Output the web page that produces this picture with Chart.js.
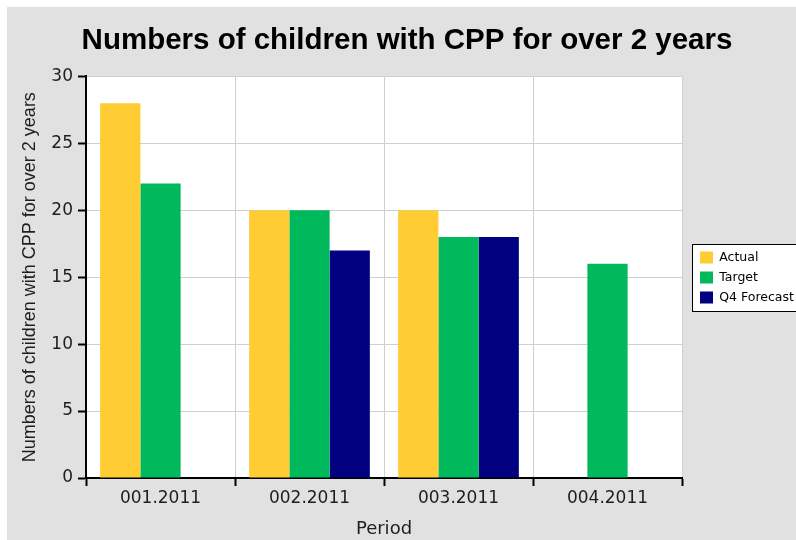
<!DOCTYPE html>
<html>
<head>
<meta charset="utf-8">
<script src="https://cdn.jsdelivr.net/npm/chart.js@4.4.0/dist/chart.umd.min.js"></script>
<style>
body{margin:0;background:#fff;}
#wrap{position:absolute;left:7px;top:7px;width:789px;height:533px;background:#e1e1e1;}
</style>
</head>
<body>
<div id="wrap"><canvas id="chart" width="789" height="533"></canvas></div>
<script>

// ===== Data =====

const periods = ["001.2011","002.2011","003.2011","004.2011"];

const actual   = [28,20,20,null];
const target   = [22,20,18,16];
const forecast = [null,17,18,null];

const seriesNames = ["Actual","Target","Q4 Forecast"];
const seriesColors = ["#ffcc33","#00b95d","#000080"];


// ===== Plot background + legend frame =====

const framePlugin = {

    id:"framePlugin",

    beforeLayout(chart){
        const lg = chart.legend;
        if(lg && !lg._fixedWidth){
            const fit = lg.fit.bind(lg);
            lg.fit = function(){ fit(); this.width = 114; };
            lg._fixedWidth = true;
        }
    },

    afterLayout(chart){
        // nudge legend items into place inside its frame
        chart.legend.left += 10.5;
        chart.legend.right += 10.5;
        chart.legend.top += 4;
        chart.legend.bottom += 4;
    },

    beforeDraw(chart){
        const ctx = chart.ctx;
        const a = chart.chartArea;
        ctx.save();
        ctx.fillStyle = "#ffffff";
        ctx.fillRect(a.left,a.top,a.right-a.left,a.bottom-a.top);

        const hb = chart.legend.legendHitBoxes;
        if(hb && hb.length){
            const first = hb[0], last = hb[hb.length-1];
            const x = Math.round(first.left-8)+0.5;
            const y = Math.round(first.top-7.5)+0.5;
            const h = Math.round(last.top+last.height+7.5)-y+0.5;
            ctx.fillStyle = "#ffffff";
            ctx.fillRect(x,y,chart.width-x+5,h);
            ctx.strokeStyle = "#000000";
            ctx.lineWidth = 1;
            ctx.strokeRect(x,y,chart.width-x+5,h);
        }
        ctx.restore();
    }

};


// ===== Chart =====

const ctx = document.getElementById("chart").getContext("2d");

const tickFont = {family:"DejaVu Sans",size:17};

const chart = new Chart(ctx,{

    type:"bar",

    data:{
        labels:periods,
        datasets:[actual,target,forecast].map((vals,i)=>({
            label:seriesNames[i],
            data:vals,
            backgroundColor:seriesColors[i],
            borderWidth:0,
            categoryPercentage:0.81,
            barPercentage:1
        }))
    },

    options:{

        responsive:false,
        animation:false,

        layout:{padding:{left:11,right:0,top:0,bottom:0}},

        plugins:{
            title:{
                display:true,
                text:"Numbers of children with CPP for over 2 years",
                color:"#000",
                font:{family:"Liberation Sans",size:29.5,weight:"bold"},
                padding:{top:16,bottom:18}
            },
            legend:{
                position:"right",
                labels:{
                    boxWidth:13,
                    boxHeight:12,
                    padding:7.5,
                    color:"#000",
                    font:{family:"DejaVu Sans",size:12.5}
                }
            },
            tooltip:{enabled:false}
        },

        scales:{

            x:{
                grid:{color:"#cfcfcf",tickColor:"#000",tickLength:8,tickWidth:2,offset:true},
                border:{color:"#000",width:2},
                ticks:{color:"#1e1e1e",font:tickFont,padding:2},
                title:{
                    display:true,
                    text:"Period",
                    color:"#1e1e1e",
                    font:{family:"DejaVu Sans",size:18},
                    padding:{top:0,bottom:0}
                },
                afterFit(s){ s.height = 62; }
            },

            y:{
                min:0,
                max:30,
                grid:{color:"#cfcfcf",tickColor:"#000",tickLength:8,tickWidth:2},
                border:{color:"#000",width:2},
                ticks:{stepSize:5,color:"#1e1e1e",font:tickFont,padding:5},
                title:{
                    display:true,
                    text:"Numbers of children with CPP for over 2 years",
                    color:"#1e1e1e",
                    font:{family:"Liberation Sans",size:18},
                    padding:{top:1,bottom:0}
                },
                afterFit(s){ s.width = 68; }
            }

        }

    },

    plugins:[framePlugin]

});

</script>
</body>
</html>
